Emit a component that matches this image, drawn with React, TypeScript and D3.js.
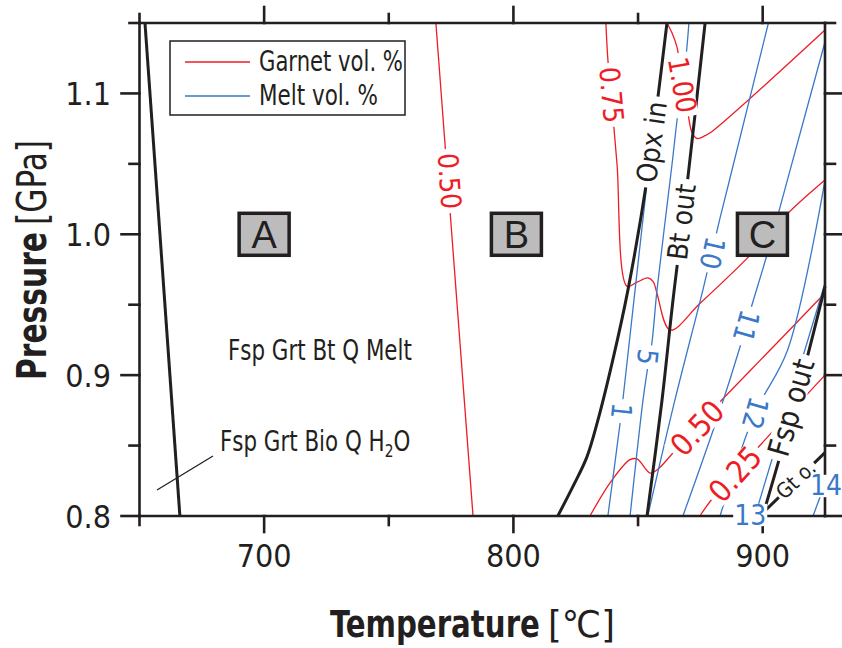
import React, { useLayoutEffect, useRef, useState } from "react";
import * as d3 from "d3";

// ---------- data ----------
const TEMP_TICKS = [650, 700, 750, 800, 850, 900];
const TEMP_MAJOR = [700, 800, 900];
const PRES_TICKS = [0.8, 0.85, 0.9, 0.95, 1.0, 1.05, 1.1, 1.15];
const PRES_MAJOR = [0.8, 0.9, 1.0, 1.1];
const PRES_LABELS = ["0.8", "0.9", "1.0", "1.1"];

type Pt = [number, number]; // [T °C, P GPa]

// phase boundaries (black)
const solidus: Pt[] = [[652.2, 1.15], [666.2, 0.8]];
const opxIn: Pt[] = [[817.8, 0.8], [823.9, 0.821], [829.5, 0.842], [833.9, 0.868], [839.9, 0.911], [845.9, 0.96], [853.6, 1.039], [857.6, 1.092], [861.6, 1.15]];
const btOut: Pt[] = [[853.6, 0.8], [859.6, 0.882], [864.0, 0.953], [869.6, 1.034], [876.9, 1.15]];
const fspOut: Pt[] = [[900.5, 0.803], [907.7, 0.847], [916.9, 0.906], [925, 0.963]];
const gtOut: Pt[] = [[900.5, 0.803], [925, 0.845]];

// garnet vol.% isopleths (red)
const grt050a: Pt[] = [[768.9, 1.15], [783.8, 0.8]];
const grt075: Pt[] = [[837.1, 1.15], [837.9, 1.124], [840.4, 1.074], [841.6, 1.049], [845.6, 0.963], [849.6, 0.966], [854.0, 0.969], [856.2, 0.966], [857.6, 0.958], [862.9, 0.932], [874.9, 0.951], [894.9, 0.985], [910.2, 1.015], [925, 1.0385]];
const grt100: Pt[] = [[861.6, 1.15], [863.6, 1.143], [865.6, 1.133], [867.6, 1.11], [870.1, 1.085], [871.7, 1.072], [873.7, 1.068], [876.9, 1.07], [879.7, 1.073], [925, 1.145]];
const grt050b: Pt[] = [[830.7, 0.8], [839.6, 0.8256], [846.8, 0.84], [849.6, 0.8405], [854.8, 0.8305], [857.6, 0.8327], [864.0, 0.8447], [881.7, 0.8788], [903.0, 0.9178], [925, 0.9583]];
const grt025: Pt[] = [[874.8, 0.8], [880.0, 0.8128], [896.1, 0.8447], [925, 0.9]];

// melt vol.% isopleths (blue)
const melt1: Pt[] = [[837.9, 0.8], [842.8, 0.866], [844.0, 0.8838], [848.8, 0.9604], [853.6, 1.0364]];
const melt5: Pt[] = [[846.8, 0.8], [852.0, 0.8824], [853.6, 0.9022], [855.6, 0.9235], [857.6, 0.9604], [863.6, 1.0492], [866.0, 1.0861], [869.2, 1.1259], [870.4, 1.15]];
const melt10: Pt[] = [[853.9, 0.8], [864.8, 0.8824], [876.0, 0.9604], [883.0, 1.0123], [886.2, 1.035], [902.3, 1.15]];
const melt11: Pt[] = [[868.0, 0.8], [882.9, 0.8753], [890.9, 0.92], [895.7, 0.9498], [901.7, 0.9853], [911.0, 1.0456], [925, 1.1365]];
const melt12: Pt[] = [[882.9, 0.8], [896.9, 0.8731], [910.0, 0.9178], [925, 1.0385]];
const melt13: Pt[] = [[896.9, 0.8], [925, 0.9654]];
const melt14: Pt[] = [[920.2, 0.8], [923.0, 0.8135]];

const garnetLines = [grt050a, grt075, grt100, grt050b, grt025];
const meltLines = [melt1, melt5, melt10, melt11, melt12, melt13, melt14];
const boundaryLines = [solidus, opxIn, btOut, fspOut, gtOut];

// contour / boundary labels: text, T, P, rotation
const garnetLabels: [string, number, number, number][] = [
  ["0.50", 774.2, 1.0378, 86],
  ["0.75", 839.2, 1.099, 85],
  ["1.00", 867.6, 1.106, 80],
  ["0.50", 873.7, 0.8625, -47],
  ["0.25", 888.9, 0.8298, -48],
];
const meltLabels: [string, number, number, number][] = [
  ["1", 843.2, 0.8745, 96],
  ["5", 853.6, 0.9129, 96],
  ["10", 879.7, 0.9867, 103],
  ["11", 893.3, 0.9349, 106],
  ["12", 896.9, 0.8731, 106],
];
const meltEdgeLabels: [string, number, number][] = [
  ["13", 895.0, 0.8007],
  ["14", 925.4, 0.8213],
];
const boundaryLabels: [string, number, number, number][] = [
  ["Opx in", 855.6, 1.0655, -82],
  ["Bt out", 867.6, 1.0087, -83],
  ["Fsp out", 911.4, 0.877, -74],
  ["Gt o.", 913.4, 0.8256, -43],
];
const fieldBoxes: [string, number, number][] = [
  ["A", 700, 1.0],
  ["B", 801.2, 1.0],
  ["C", 899.9, 1.0],
];

const legendItems = ["Garnet vol. %", "Melt vol. %"];

// ---------- style ----------
const RED = "#ee1c25";
const BLUE = "#3a78c8";
const INK = "#231f20";
const FONT = "'Liberation Sans Narrow', 'DejaVu Sans Condensed', 'Liberation Sans', Arial, sans-serif";

const W = 842, H = 648;
const x = d3.scaleLinear().domain([650, 925]).range([139.5, 825]);
const y = d3.scaleLinear().domain([0.8, 1.15]).range([516, 23]);

const line = d3.line<Pt>().x((d) => x(d[0])).y((d) => y(d[1])).curve(d3.curveCatmullRom.alpha(0.5));

// label with white knock-out box behind it
function Label({ text, px, py, angle, size, fill, pad = 4 }: { text: string; px: number; py: number; angle: number; size: number; fill: string; pad?: number }) {
  const ref = useRef<SVGTextElement>(null);
  const [w, setW] = useState(0);
  useLayoutEffect(() => {
    if (ref.current) setW(ref.current.getComputedTextLength());
  }, [text, size]);
  return (
    <g transform={`translate(${px},${py}) rotate(${angle})`}>
      {w > 0 && <rect x={-w / 2 - pad} y={-size * 0.4} width={w + 2 * pad} height={size * 0.8} fill="#fff" />}
      <text ref={ref} textAnchor="middle" dominantBaseline="central" fontSize={size} fill={fill}>{text}</text>
    </g>
  );
}

// text squeezed horizontally to a target width (keeps glyph height)
function FitText({ text, px, py, width, size, bold = false, angle = 0 }: { text: string; px: number; py: number; width: number; size: number; bold?: boolean; angle?: number }) {
  const ref = useRef<SVGTextElement>(null);
  const [s, setS] = useState(1);
  useLayoutEffect(() => {
    if (ref.current) {
      const n = ref.current.getComputedTextLength();
      if (n > 0) setS(width / n);
    }
  }, [text, size, width]);
  return (
    <g transform={`translate(${px},${py}) rotate(${angle}) scale(${s},1)`}>
      <text ref={ref} x={0} y={0} fontSize={size} fontWeight={bold ? "bold" : "normal"} fill={INK}>{text}</text>
    </g>
  );
}

export default function App() {
  const x0 = x(650), x1 = x(925), y0 = y(0.8), y1 = y(1.15);
  return (
    <svg width={W} height={H} style={{ position: "absolute", left: 0, top: 0, background: "#fff" }} fontFamily={FONT}>
      <rect width={W} height={H} fill="#fff" />
      {/* isopleths */}
      {garnetLines.map((l, i) => (
        <path key={"g" + i} d={line(l) || ""} fill="none" stroke={RED} strokeWidth={1.3} />
      ))}
      {meltLines.map((l, i) => (
        <path key={"m" + i} d={line(l) || ""} fill="none" stroke={BLUE} strokeWidth={1.3} />
      ))}
      {boundaryLines.map((l, i) => (
        <path key={"b" + i} d={line(l) || ""} fill="none" stroke={INK} strokeWidth={3} />
      ))}

      {/* field boxes */}
      {fieldBoxes.map(([t, T, P]) => (
        <g key={t} transform={`translate(${x(T)},${y(P)})`}>
          <rect x={-25} y={-21} width={50} height={42} fill="#bcbcbc" stroke={INK} strokeWidth={3.5} />
          <text textAnchor="middle" dominantBaseline="central" fontSize={38} fill={INK} fontFamily="'Liberation Sans', Arial, sans-serif" dy={1}>{t}</text>
        </g>
      ))}

      {/* assemblage texts */}
      <FitText text="Fsp Grt Bt Q Melt" px={228} py={360} width={184} size={28} />
      <g transform="translate(220,451) scale(0.85,1)">
        <text x={0} y={0} fontSize={28} fill={INK}>
          Fsp Grt Bio Q H<tspan fontSize={18} dy={6}>2</tspan><tspan dy={-6}>O</tspan>
        </text>
      </g>
      <line x1={157} y1={490} x2={213} y2={456} stroke={INK} strokeWidth={1.3} />

      {/* axes frame */}
      <g stroke={INK} strokeWidth={2.6} strokeLinecap="square">
        <line x1={x0} y1={y0} x2={x1} y2={y0} />
        <line x1={x0} y1={y1} x2={x1} y2={y1} />
        <line x1={x0} y1={y0} x2={x0} y2={y1} />
        <line x1={x1} y1={y0} x2={x1} y2={y1} />
        {TEMP_TICKS.map((t) => {
          const L = TEMP_MAJOR.includes(t) ? 16 : 9;
          return (
            <g key={"xt" + t}>
              <line x1={x(t)} x2={x(t)} y1={y0} y2={y0 + L} />
              <line x1={x(t)} x2={x(t)} y1={y1} y2={y1 - L} />
            </g>
          );
        })}
        {PRES_TICKS.map((p) => {
          const L = PRES_MAJOR.some((m) => Math.abs(m - p) < 1e-6) ? 18 : 10;
          return (
            <g key={"yt" + p}>
              <line x1={x0} x2={x0 - L} y1={y(p)} y2={y(p)} />
              <line x1={x1} x2={x1 + L} y1={y(p)} y2={y(p)} />
            </g>
          );
        })}
      </g>
      {TEMP_MAJOR.map((t) => (
        <text key={"xl" + t} x={x(t)} y={567} textAnchor="middle" fontSize={32} fill={INK}>{t}</text>
      ))}
      {PRES_MAJOR.map((p, i) => (
        <text key={"yl" + p} x={111} y={y(p)} dy="0.36em" textAnchor="end" fontSize={32} fill={INK}>{PRES_LABELS[i]}</text>
      ))}

      {/* axis titles */}
      <FitText text="Temperature" px={330} py={637} width={210} size={37} bold />
      <FitText text="[℃]" px={548} py={637} width={67} size={37} />
      <FitText text="Pressure" px={46} py={380} width={148} size={40} bold angle={-90} />
      <FitText text="[GPa]" px={46} py={225} width={85} size={40} angle={-90} />

      {/* labels with knock-out */}
      {garnetLabels.map(([t, T, P, a], i) => (
        <Label key={"gl" + i} text={t} px={x(T)} py={y(P)} angle={a} size={i >= 3 ? 31 : 28} fill={RED} />
      ))}
      {meltLabels.map(([t, T, P, a], i) => (
        <Label key={"ml" + i} text={t} px={x(T)} py={y(P)} angle={a} size={28} fill={BLUE} />
      ))}
      {meltEdgeLabels.map(([t, T, P], i) => (
        <Label key={"me" + i} text={t} px={x(T)} py={y(P)} angle={0} size={28} fill={BLUE} pad={1} />
      ))}
      {boundaryLabels.map(([t, T, P, a], i) => (
        <Label key={"bl" + i} text={t} px={x(T)} py={y(P)} angle={a} size={i === 3 ? 21 : i === 2 ? 30 : 28} fill={INK} pad={i === 3 ? 2 : 5} />
      ))}

      {/* legend */}
      <rect x={170} y={41} width={235} height={74} fill="#fff" stroke={INK} strokeWidth={1.5} />
      {legendItems.map((t, i) => (
        <g key={t}>
          <line x1={185} x2={250} y1={62 + i * 34} y2={62 + i * 34} stroke={i === 0 ? RED : BLUE} strokeWidth={1.5} />
          <FitText text={t} px={259} py={71 + i * 34} width={i === 0 ? 144 : 119} size={29} />
        </g>
      ))}
    </svg>
  );
}
